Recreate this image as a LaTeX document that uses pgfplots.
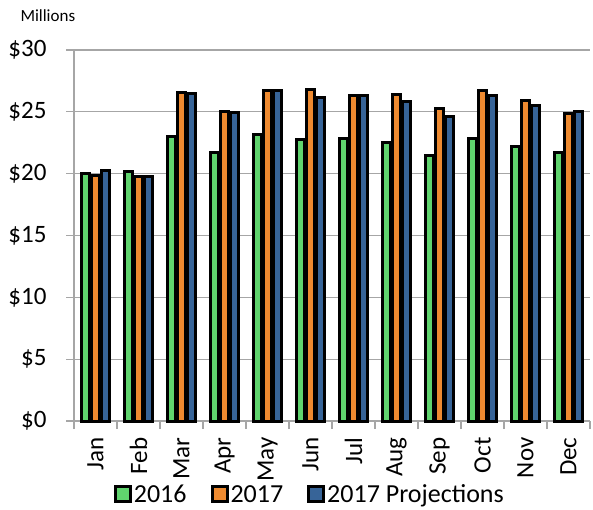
\documentclass[border=0pt]{standalone}
\usepackage{pgfplots}
\pgfplotsset{compat=1.18}
\usepackage{fontspec}
\setmainfont{Carlito}
\definecolor{cgreen}{HTML}{60D46E}
\definecolor{corange}{HTML}{EE8A30}
\definecolor{cblue}{HTML}{376498}
\definecolor{cgrid}{HTML}{A6A6A6}
\begin{document}
\begin{tikzpicture}
\useasboundingbox (0,0) rectangle (593pt,509pt);
\begin{axis}[
    at={(74pt,88pt)}, anchor=south west,
    scale only axis,
    width=516pt, height=371pt,
    ybar, bar width=7.5pt,
    xmin=-0.5, xmax=11.5,
    ymin=0, ymax=30,
    ytick={0,5,...,30},
    yticklabel={\$\pgfmathprintnumber{\tick}},
    xtick={0,...,11},
    xticklabels={Jan,Feb,Mar,Apr,May,Jun,Jul,Aug,Sep,Oct,Nov,Dec},
    minor xtick={-0.5,0.5,...,11.5},
    xticklabel style={rotate=90, anchor=east, xshift=-5pt, font=\fontsize{25}{28}\selectfont},
    yticklabel style={xshift=-16pt, font=\fontsize{25}{28}\selectfont},
    /pgf/number format/assume math mode=true,
    major x tick style={draw=none},
    minor x tick style={draw=cgrid, line width=1.2pt},
    minor tick length=8pt,
    ytick style={draw=cgrid, line width=1.2pt},
    major tick length=8pt,
    tick align=outside,
    ymajorgrids,
    grid style={cgrid, line width=1.3pt},
    axis x line*=bottom, axis y line*=left,
    axis line style={cgrid, line width=1.3pt, -},
    clip=false,
    legend style={at={(0.457,-0.198)}, anchor=center, draw=none, inner sep=1pt,
        legend columns=3, font=\fontsize{26}{29}\selectfont,
        /tikz/every even column/.append style={column sep=22pt}},
    legend image code/.code={\draw[#1, line width=3pt] (0pt,-7pt) rectangle (15pt,8pt);},
    every axis plot/.append style={draw=black, line width=3pt},
]
\addplot[fill=cgreen, bar shift=-10pt] coordinates {
(0,20.05) (1,20.2) (2,23.0) (3,21.7) (4,23.2) (5,22.75) (6,22.85) (7,22.5) (8,21.45) (9,22.85) (10,22.2) (11,21.75)};
\addplot[fill=corange, bar shift=0pt] coordinates {
(0,19.85) (1,19.75) (2,26.6) (3,25.05) (4,26.7) (5,26.8) (6,26.35) (7,26.4) (8,25.3) (9,26.75) (10,25.95) (11,24.85)};
\addplot[fill=cblue, bar shift=10pt] coordinates {
(0,20.25) (1,19.75) (2,26.45) (3,24.95) (4,26.7) (5,26.15) (6,26.3) (7,25.85) (8,24.65) (9,26.3) (10,25.55) (11,25.0)};
\legend{2016,2017,2017 Projections}
\node[anchor=west, font=\fontsize{17}{20}\selectfont] at (rel axis cs:0,1) [xshift=-57pt, yshift=34pt] {Millions};
\end{axis}
\end{tikzpicture}
\end{document}
